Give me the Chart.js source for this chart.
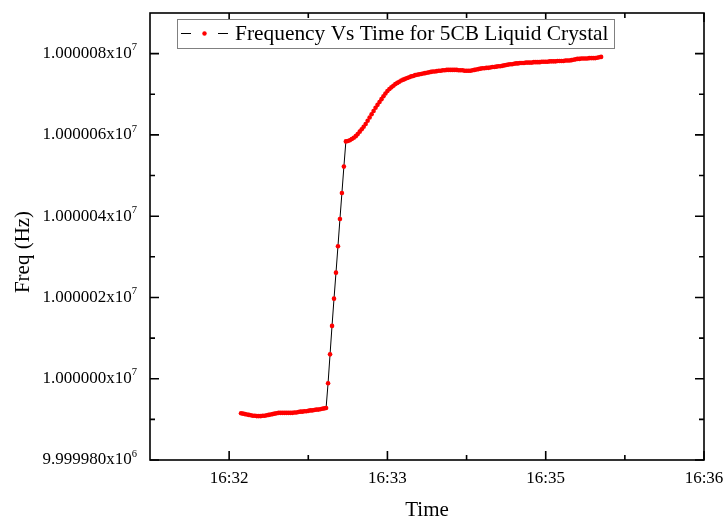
<!DOCTYPE html>
<html lang="en">
<head>
<meta charset="UTF-8">
<title>Frequency Vs Time</title>
<script src="https://cdn.jsdelivr.net/npm/chart.js"></script>
<style>
  html, body { margin: 0; padding: 0; background: #fff; }
  #wrap { width: 726px; height: 522px; }
</style>
</head>
<body>
<div id="wrap"><canvas id="chart" width="726" height="522"></canvas></div>
<script>
// seconds after 16:32:00 for each reading
const timeSec = [
  6, 7, 8, 9,
  10, 11, 12, 13, 14, 15, 16, 17, 18, 19,
  20, 21, 22, 23, 24, 25, 26, 27, 28, 29,
  30, 31, 32, 33, 34, 35, 36, 37, 38, 39,
  40, 41, 42, 43, 44, 45, 46, 47, 48, 49,
  50, 51, 52, 53, 54, 55, 56, 57, 58, 59,
  60, 61, 62, 63, 64, 65, 66, 67, 68, 69,
  70, 71, 72, 73, 74, 75, 76, 77, 78, 79,
  80, 81, 82, 83, 84, 85, 86, 87, 88, 89,
  90, 91, 92, 93, 94, 95, 96, 97, 98, 99,
  100, 101, 102, 103, 104, 105, 106, 107, 108, 109,
  110, 111, 112, 113, 114, 115, 116, 117, 118, 119,
  120, 121, 122, 123, 124, 125, 126, 127, 128, 129,
  130, 131, 132, 133, 134, 135, 136, 137, 138, 139,
  140, 141, 142, 143, 144, 145, 146, 147, 148, 149,
  150, 151, 152, 153, 154, 155, 156, 157, 158, 159,
  160, 161, 162, 163, 164, 165, 166, 167, 168, 169,
  170, 171, 172, 173, 174, 175, 176, 177, 178, 179,
  180, 181, 182, 183, 184, 185, 186, 187, 188
];

// frequency minus 10 MHz, in Hz
const BASE_HZ = 10000000;
const freqDeltaHz = [
  -8.5, -8.6, -8.7, -8.8,
  -8.9, -9.0, -9.1, -9.1, -9.2, -9.2, -9.2, -9.1, -9.1, -9.0,
  -8.9, -8.8, -8.7, -8.6, -8.5, -8.4, -8.4, -8.4, -8.4, -8.4,
  -8.4, -8.4, -8.4, -8.3, -8.3, -8.2, -8.1, -8.1, -8.0, -8.0,
  -7.9, -7.8, -7.8, -7.7, -7.6, -7.6, -7.5, -7.4, -7.3, -7.2,
  -1.1, 6.0, 13.0, 19.7, 26.1, 32.6, 39.3, 45.7, 52.2, 58.4,
  58.5, 58.7, 59.0, 59.3, 59.7, 60.2, 60.8, 61.4, 62.0, 62.7,
  63.5, 64.3, 65.1, 65.9, 66.7, 67.4, 68.1, 68.8, 69.5, 70.2,
  70.8, 71.3, 71.7, 72.1, 72.5, 72.8, 73.1, 73.4, 73.6, 73.8,
  74.0, 74.2, 74.4, 74.5, 74.7, 74.8, 74.9, 75.0, 75.1, 75.2,
  75.3, 75.4, 75.5, 75.6, 75.6, 75.7, 75.8, 75.8, 75.9, 75.9,
  76.0, 76.0, 76.0, 76.0, 76.0, 76.0, 75.9, 75.9, 75.9, 75.8,
  75.8, 75.8, 75.8, 75.9, 76.0, 76.1, 76.2, 76.3, 76.4, 76.4,
  76.5, 76.5, 76.6, 76.7, 76.7, 76.8, 76.9, 76.9, 77.0, 77.1,
  77.2, 77.3, 77.4, 77.4, 77.5, 77.6, 77.6, 77.7, 77.7, 77.7,
  77.8, 77.8, 77.8, 77.8, 77.9, 77.9, 77.9, 77.9, 78.0, 78.0,
  78.0, 78.0, 78.1, 78.1, 78.1, 78.1, 78.2, 78.2, 78.2, 78.2,
  78.3, 78.3, 78.3, 78.4, 78.5, 78.6, 78.7, 78.7, 78.8, 78.8,
  78.8, 78.8, 78.9, 78.9, 78.9, 78.9, 79.0, 79.1, 79.2
];

// x axis: major ticks (seconds after 16:32:00) and their labels as printed
const xMajorTicks = [0, 80, 160, 240];
const xTickLabels = ['16:32', '16:33', '16:35', '16:36'];
const xMinorTicks = [40, 120, 200];

// y axis: major ticks and labels (mantissa + exponent)
const yMajorTicks = [9999980, 10000000, 10000020, 10000040, 10000060, 10000080];
const yTickMantissa = ['9.999980x10', '1.000000x10', '1.000002x10', '1.000004x10', '1.000006x10', '1.000008x10'];
const yTickExponent = ['6', '7', '7', '7', '7', '7'];
const yMinorTicks = [9999990, 10000010, 10000030, 10000050, 10000070];

const seriesLabel = 'Frequency Vs Time for 5CB Liquid Crystal';
const FONT = '"Liberation Serif", "Times New Roman", serif';

const points = timeSec.map((t, i) => ({ x: t, y: BASE_HZ + freqDeltaHz[i] }));

// frame, inward ticks, tick labels, titles and the boxed legend
const originStyle = {
  id: 'originStyle',
  afterDraw(chart) {
    const { ctx, chartArea: a, scales: { x, y } } = chart;
    ctx.save();
    ctx.strokeStyle = '#000';
    ctx.lineWidth = 1.6;
    ctx.strokeRect(a.left, a.top, a.right - a.left, a.bottom - a.top);

    ctx.beginPath();
    const xt = (v, len) => {
      const px = x.getPixelForValue(v);
      ctx.moveTo(px, a.bottom); ctx.lineTo(px, a.bottom - len);
      ctx.moveTo(px, a.top); ctx.lineTo(px, a.top + len);
    };
    const yt = (v, len) => {
      const py = y.getPixelForValue(v);
      ctx.moveTo(a.left, py); ctx.lineTo(a.left + len, py);
      ctx.moveTo(a.right, py); ctx.lineTo(a.right - len, py);
    };
    xMajorTicks.forEach(v => xt(v, 9));
    xMinorTicks.forEach(v => xt(v, 5));
    yMajorTicks.forEach(v => yt(v, 9));
    yMinorTicks.forEach(v => yt(v, 5));
    ctx.stroke();

    ctx.fillStyle = '#000';
    ctx.font = '17px ' + FONT;
    ctx.textAlign = 'center';
    ctx.textBaseline = 'middle';
    xMajorTicks.forEach((v, i) => {
      ctx.fillText(xTickLabels[i], x.getPixelForValue(v), a.bottom + 19);
    });

    yMajorTicks.forEach((v, i) => {
      const py = y.getPixelForValue(v);
      ctx.font = '10.5px ' + FONT;
      ctx.textAlign = 'left';
      const expW = ctx.measureText(yTickExponent[i]).width;
      const right = a.left - 13;
      ctx.fillText(yTickExponent[i], right - expW, py - 6);
      ctx.font = '17px ' + FONT;
      ctx.textAlign = 'right';
      ctx.fillText(yTickMantissa[i], right - expW, py);
    });

    ctx.font = '21px ' + FONT;
    ctx.textAlign = 'center';
    ctx.fillText('Time', (a.left + a.right) / 2, 510);
    ctx.save();
    ctx.translate(23, 252);
    ctx.rotate(-Math.PI / 2);
    ctx.fillText('Freq (Hz)', 0, 0);
    ctx.restore();

    // legend box
    const lx = 177, ly = 19, lw = 437, lh = 29;
    ctx.fillStyle = '#fff';
    ctx.fillRect(lx, ly, lw, lh);
    ctx.strokeStyle = '#808080';
    ctx.lineWidth = 1;
    ctx.strokeRect(lx + 0.5, ly + 0.5, lw, lh);
    const cy = ly + lh / 2;
    ctx.strokeStyle = '#000';
    ctx.beginPath();
    ctx.moveTo(181, cy); ctx.lineTo(191, cy);
    ctx.moveTo(218, cy); ctx.lineTo(228, cy);
    ctx.stroke();
    ctx.fillStyle = '#ff0000';
    ctx.beginPath();
    ctx.arc(204.5, cy, 2.2, 0, Math.PI * 2);
    ctx.fill();
    ctx.fillStyle = '#000';
    ctx.font = '21.4px ' + FONT;
    ctx.textAlign = 'left';
    ctx.fillText(seriesLabel, 235, cy + 1);
    ctx.restore();
  }
};

new Chart(document.getElementById('chart').getContext('2d'), {
  type: 'line',
  data: {
    datasets: [{
      label: seriesLabel,
      data: points,
      borderColor: '#000',
      borderWidth: 1,
      pointRadius: 2.3,
      pointBorderWidth: 0,
      pointBackgroundColor: '#ff0000',
      pointBorderColor: '#ff0000',
      tension: 0
    }]
  },
  options: {
    responsive: false,
    animation: false,
    layout: { padding: { left: 150, right: 22, top: 13, bottom: 62 } },
    plugins: { legend: { display: false }, tooltip: { enabled: false } },
    scales: {
      x: { type: 'linear', min: -40, max: 240, display: false },
      y: { type: 'linear', min: 9999980, max: 10000090, display: false }
    }
  },
  plugins: [originStyle]
});
</script>
</body>
</html>
